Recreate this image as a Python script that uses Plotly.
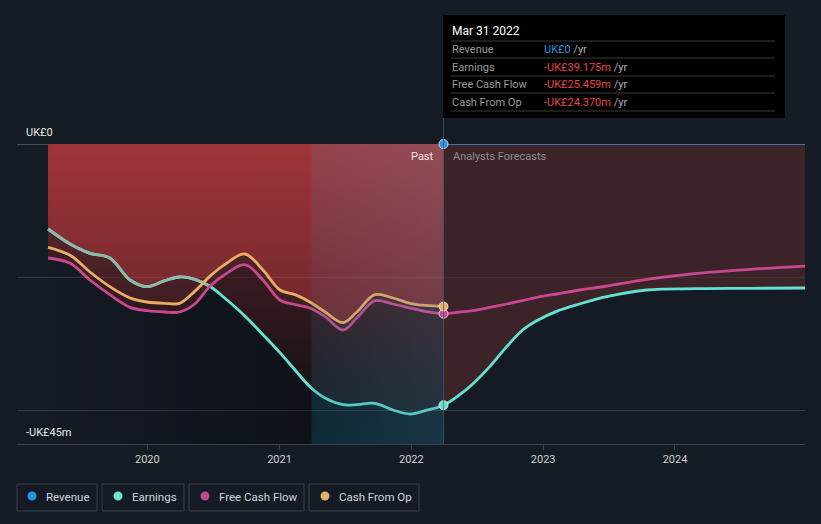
import numpy as np
import plotly.graph_objects as go

# ---------------- data (UK£ m) ----------------
past_dates = ['2019-04-01', '2019-06-01', '2019-07-26', '2019-09-19', '2019-11-14', '2019-12-31',
              '2020-02-18', '2020-03-30', '2020-05-11', '2020-06-21', '2020-08-02', '2020-09-27',
              '2020-11-16', '2021-01-02', '2021-02-13', '2021-03-26', '2021-05-07', '2021-06-26',
              '2021-08-03', '2021-09-22', '2021-11-11', '2021-12-28', '2022-02-08', '2022-03-31']
revenue_past = [0] * len(past_dates)
earnings_past = [-12.75, -15.0, -16.4, -17.1, -20.4, -21.4, -20.5, -19.95, -20.3, -21.3, -23.1, -25.8,
                 -28.6, -31.3, -33.9, -36.4, -38.1, -39.1, -39.1, -38.9, -39.9, -40.5, -40.0, -39.175]
fcf_past = [-17.1, -17.9, -20.4, -22.6, -24.5, -25.0, -25.2, -25.2, -24.0, -21.4, -19.6, -18.1,
            -20.4, -23.4, -24.1, -24.6, -25.9, -27.9, -26.1, -23.5, -24.0, -24.6, -25.1, -25.459]
cfo_past = [-15.5, -16.7, -19.2, -21.4, -23.1, -23.7, -23.9, -23.9, -22.1, -19.9, -18.1, -16.5,
            -18.9, -21.9, -22.6, -23.7, -25.2, -26.8, -25.2, -22.6, -23.1, -23.9, -24.2, -24.37]

fc_dates = ['2022-03-31', '2022-05-15', '2022-06-20', '2022-08-06', '2022-09-22', '2022-11-05',
            '2022-12-14', '2023-02-07', '2023-04-12', '2023-06-26', '2023-10-15', '2024-03-02',
            '2024-07-27', '2024-12-31']
revenue_fc = [0] * len(fc_dates)
earnings_fc = [-39.175, -37.6, -36.0, -33.4, -30.4, -27.9, -26.5, -25.1, -24.0, -22.9, -21.9, -21.7,
               -21.65, -21.6]
fcf_fc = [-25.459, -25.2, -25.0, -24.5, -24.0, -23.5, -23.0, -22.5, -21.9, -21.3, -20.3, -19.4,
          -18.8, -18.3]

band_start = '2021-03-31'
now_date = '2022-03-31'
y_ticks = [0, -20, -40]
year_ticks = ['2020-01-01', '2021-01-01', '2022-01-01', '2023-01-01', '2024-01-01']
year_labels = ['2020', '2021', '2022', '2023', '2024']

tooltip_rows = [('Revenue', 'UK£0', '#2394df'),
                ('Earnings', '-UK£39.175m', '#e84545'),
                ('Free Cash Flow', '-UK£25.459m', '#e84545'),
                ('Cash From Op', '-UK£24.370m', '#e84545')]
legend_items = [('Revenue', '#2394df'), ('Earnings', '#72e6d6'),
                ('Free Cash Flow', '#c2468b'), ('Cash From Op', '#e6ad63')]

# ---------------- styling ----------------
BG = '#151b24'
C_REV = '#2394df'
C_EARN = '#64e2d1'
C_EARN_TOP = '#8fb8a9'
C_FCF = '#c8488f'
C_CFO = '#e8ae62'
FONT = 'Roboto'

W, H = 821, 524
L, R, T, B = 17, 805, 144, 444


def px(x):
    return (x - L) / (R - L)


def py(y):
    return (B - y) / (B - T)


stack = np.array([earnings_past, fcf_past, cfo_past])
top_env = stack.max(axis=0)
mid_env = np.median(stack, axis=0)
bot_env = stack.min(axis=0)

fig = go.Figure()

# dark horizontal shading of the past region
fig.add_trace(go.Scatter(
    x=[past_dates[0], now_date, now_date, past_dates[0], past_dates[0]],
    y=[0, 0, -45, -45, 0], mode='lines', line=dict(width=0), fill='toself',
    fillgradient=dict(type='horizontal',
                      colorscale=[[0, 'rgba(0,0,0,0.02)'], [0.667, 'rgba(0,0,0,0.33)'],
                                  [1, 'rgba(0,0,0,0.33)']]),
    hoverinfo='skip'))


def area(dates, zero, env, grad=None, color=None):
    fig.add_trace(go.Scatter(x=dates, y=zero, mode='lines', line=dict(width=0, shape='spline'),
                             hoverinfo='skip'))
    kw = dict(fillgradient=grad) if grad else dict(fillcolor=color)
    fig.add_trace(go.Scatter(x=dates, y=env, mode='lines', line=dict(width=0, shape='spline'),
                             fill='tonexty', hoverinfo='skip', **kw))


area(past_dates, revenue_past, bot_env,
     grad=dict(type='vertical', start=-45, stop=0,
               colorscale=[[0, '#121116'], [0.25, '#1e1418'], [0.49, '#33191e'], [1, '#52262b']]))
area(past_dates, revenue_past, mid_env,
     grad=dict(type='vertical', start=-45, stop=0,
               colorscale=[[0, '#2a171b'], [0.47, '#3f1e24'], [0.67, '#4f2329'], [1, '#64292f']]))
area(past_dates, revenue_past, top_env,
     grad=dict(type='vertical', start=-45, stop=0,
               colorscale=[[0, '#4e1e24'], [0.533, '#792a2f'], [1, '#9f3539']]))
area(fc_dates, revenue_fc, earnings_fc, color='#3b2328')

# lines
earn_dates = past_dates + fc_dates[1:]
earn_all = earnings_past + earnings_fc[1:]
fcf_all = fcf_past + fcf_fc[1:]
fig.add_trace(go.Scatter(x=fc_dates, y=revenue_fc, mode='lines', line=dict(color='#4b70ad', width=2),
                         cliponaxis=False, hoverinfo='skip'))
fig.add_trace(go.Scatter(x=earn_dates, y=earn_all, mode='lines',
                         line=dict(color=C_EARN, width=2.8, shape='spline'), hoverinfo='skip'))
fig.add_trace(go.Scatter(x=past_dates[:10], y=earnings_past[:10], mode='lines',
                         line=dict(color=C_EARN_TOP, width=2.8, shape='spline'), hoverinfo='skip'))
fig.add_trace(go.Scatter(x=earn_dates, y=fcf_all, mode='lines',
                         line=dict(color=C_FCF, width=2.8, shape='spline'), hoverinfo='skip'))
fig.add_trace(go.Scatter(x=past_dates, y=cfo_past, mode='lines',
                         line=dict(color=C_CFO, width=2.8, shape='spline'), hoverinfo='skip'))

# highlighted last-year band
fig.add_trace(go.Scatter(
    x=[band_start, now_date, now_date, band_start, band_start], y=[0, 0, -45, -45, 0],
    mode='lines', line=dict(width=0), fill='toself',
    fillgradient=dict(type='vertical', start=-45, stop=0,
                      colorscale=[[0, 'rgba(0,125,150,0.24)'], [0.5, 'rgba(90,110,140,0.14)'],
                                  [1, 'rgba(110,120,150,0.20)']]),
    hoverinfo='skip'))
fig.add_trace(go.Scatter(
    x=[band_start, now_date, now_date, band_start, band_start], y=[0, 0, -45, -45, 0],
    mode='lines', line=dict(width=0), fill='toself',
    fillgradient=dict(type='horizontal',
                      colorscale=[[0, 'rgba(140,160,190,0.0)'], [1, 'rgba(140,160,190,0.10)']]),
    hoverinfo='skip'))

# markers at the current date
last_vals = [revenue_fc[0], earnings_fc[0], fcf_fc[0], cfo_past[-1]]
for v, c in zip(last_vals, [C_REV, C_EARN, C_FCF, C_CFO]):
    fig.add_trace(go.Scatter(x=[now_date], y=[v], mode='markers', cliponaxis=False,
                             marker=dict(size=9, color=c, line=dict(color='rgba(235,235,235,0.85)', width=1)),
                             hoverinfo='skip'))

shapes = []
annotations = []
# gridlines over fills
for yv in y_ticks[1:]:
    shapes.append(dict(type='line', xref='paper', yref='y', x0=0, x1=1, y0=yv, y1=yv,
                       line=dict(color='rgba(255,255,255,0.07)', width=1), layer='above'))
# crosshair
shapes.append(dict(type='line', xref='x', yref='paper', x0=now_date, x1=now_date, y0=0, y1=py(118),
                   line=dict(color='rgba(60,95,115,0.7)', width=1), layer='above'))

# tooltip
shapes.append(dict(type='rect', xref='paper', yref='paper', x0=px(443), x1=px(785), y0=py(118), y1=py(15),
                   fillcolor='#000000', line=dict(width=0), layer='above'))
for ly in [41, 58, 76, 93, 111]:
    shapes.append(dict(type='line', xref='paper', yref='paper', x0=px(451), x1=px(775), y0=py(ly), y1=py(ly),
                       line=dict(color='#3a3a3a', width=1), layer='above'))
annotations.append(dict(xref='paper', yref='paper', x=px(450), y=py(31), text='Mar 31 2022', showarrow=False,
                        xanchor='left', yanchor='middle', font=dict(family=FONT, size=12, color='#ffffff')))
for (lab, val, col), ry in zip(tooltip_rows, [49.5, 67, 84.5, 102]):
    annotations.append(dict(xref='paper', yref='paper', x=px(450), y=py(ry), text=lab, showarrow=False,
                            xanchor='left', yanchor='middle', font=dict(family=FONT, size=11, color='#9a9a9a')))
    annotations.append(dict(xref='paper', yref='paper', x=px(542), y=py(ry),
                            text=f'<span style="color:{col}">{val}</span> /yr', showarrow=False,
                            xanchor='left', yanchor='middle', font=dict(family=FONT, size=11, color='#b0b0b0')))

# axis value labels
annotations.append(dict(xref='paper', yref='paper', x=px(24), y=py(132), text='UK£0', showarrow=False,
                        xanchor='left', yanchor='middle', font=dict(family=FONT, size=11, color='#e8e8e8')))
annotations.append(dict(xref='paper', yref='paper', x=px(24), y=py(432), text='-UK£45m', showarrow=False,
                        xanchor='left', yanchor='middle', font=dict(family=FONT, size=11, color='#e8e8e8')))
# past / forecast labels
annotations.append(dict(xref='paper', yref='paper', x=px(436), y=py(156), text='Past', showarrow=False,
                        xanchor='right', yanchor='middle', font=dict(family=FONT, size=11, color='#e8e8e8')))
annotations.append(dict(xref='paper', yref='paper', x=px(451), y=py(156), text='Analysts Forecasts',
                        showarrow=False, xanchor='left', yanchor='middle',
                        font=dict(family=FONT, size=11, color='#8b8e94')))

# custom legend
boxes = [(17, 97), (102, 184), (189, 304), (309, 419)]
dots = [32, 118, 205, 325]
texts = [44, 130, 217, 337]
for (name, col), (bx0, bx1), dx, tx in zip(legend_items, boxes, dots, texts):
    shapes.append(dict(type='rect', xref='paper', yref='paper', x0=px(bx0), x1=px(bx1), y0=py(511), y1=py(484),
                       line=dict(color='#3b414b', width=1), fillcolor='rgba(0,0,0,0)', layer='above'))
    shapes.append(dict(type='circle', xref='paper', yref='paper', x0=px(dx - 4.5), x1=px(dx + 4.5),
                       y0=py(496 + 4.5), y1=py(496 - 4.5), fillcolor=col, line=dict(width=0), layer='above'))
    annotations.append(dict(xref='paper', yref='paper', x=px(tx), y=py(497), text=name, showarrow=False,
                            xanchor='left', yanchor='middle', font=dict(family=FONT, size=11.5, color='#d2d5da')))

fig.update_layout(
    width=W, height=H, margin=dict(l=L, r=W - R, t=T, b=H - B),
    paper_bgcolor=BG, plot_bgcolor=BG, showlegend=False, hovermode=False,
    font=dict(family=FONT, color='#d0d0d0'),
    shapes=shapes, annotations=annotations,
    xaxis=dict(type='date', range=['2019-01-05', '2024-12-26'], tickvals=year_ticks, ticktext=year_labels,
               showgrid=False, zeroline=False, showline=True, linecolor='#3d434d', linewidth=1,
               ticks='outside', ticklen=5, tickcolor='#3d434d', tickfont=dict(size=11, color='#d0d0d0'),
               fixedrange=True),
    yaxis=dict(range=[-45, 0], tickvals=y_ticks, showticklabels=False, showgrid=True,
               gridcolor='#262c35', zeroline=True, zerolinecolor='#4a4f5a', zerolinewidth=1,
               fixedrange=True),
)

fig.write_html('out.html', config={'displayModeBar': False, 'staticPlot': True},
               post_script="document.body.style.margin='0';document.body.style.background='#151b24';")
